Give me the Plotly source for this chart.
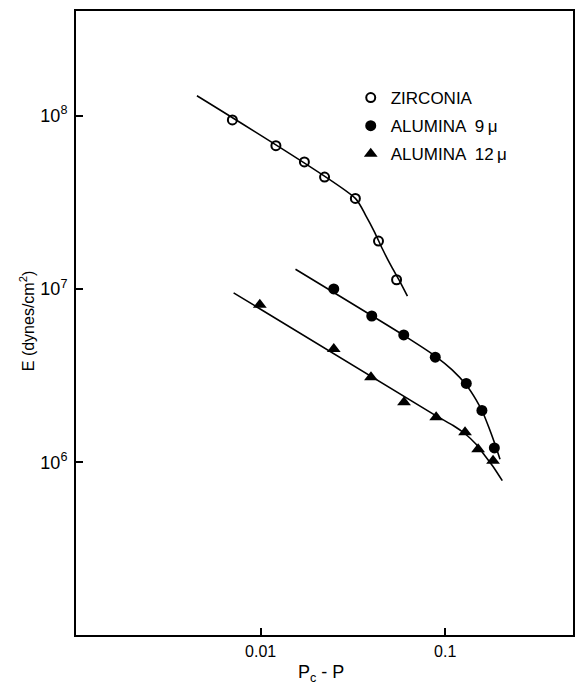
import plotly.graph_objects as go

# ---- data ----
zirc_x = [0.00703, 0.0121, 0.01726, 0.0222, 0.0326, 0.0435, 0.0545]
zirc_y = [9.45e7, 6.71e7, 5.41e7, 4.42e7, 3.33e7, 1.89e7, 1.13e7]
zirc_fit_x = [0.00452, 0.0326, 0.0370, 0.0414, 0.0457, 0.0505, 0.0569, 0.0624]
zirc_fit_y = [1.303e8, 3.33e7, 2.67e7, 2.13e7, 1.70e7, 1.38e7, 1.10e7, 9.1e6]

al9_x = [0.0249, 0.0400, 0.0596, 0.0883, 0.130, 0.158, 0.1845]
al9_y = [1.0e7, 6.98e6, 5.43e6, 4.04e6, 2.85e6, 1.99e6, 1.21e6]
al9_fit_x = [0.01545, 0.0596, 0.0883, 0.109, 0.130, 0.147, 0.160, 0.1726, 0.185, 0.198]
al9_fit_y = [1.30e7, 5.40e6, 4.10e6, 3.41e6, 2.79e6, 2.29e6, 1.93e6, 1.58e6, 1.29e6, 1.04e6]

al12_x = [0.0099, 0.0249, 0.0396, 0.0598, 0.0893, 0.128, 0.1507, 0.1815]
al12_y = [8.1e6, 4.51e6, 3.09e6, 2.22e6, 1.82e6, 1.49e6, 1.19e6, 1.02e6]
al12_fit_x = [0.00714, 0.0893, 0.1104, 0.128, 0.147, 0.164, 0.1838, 0.2037]
al12_fit_y = [9.5e6, 1.85e6, 1.63e6, 1.46e6, 1.27e6, 1.09e6, 9.27e5, 7.83e5]

x_tickvals = [0.01, 0.1]
x_ticktext = ["0.01", "0.1"]
y_tickvals = [1e6, 1e7, 1e8]
y_ticktext = ["10<sup>6</sup>", "10<sup>7</sup>", "10<sup>8</sup>"]

labels = ["ZIRCONIA", "ALUMINA  9\u2009\u03bc", "ALUMINA  12\u2009\u03bc"]

FONT = "Liberation Sans"
fig = go.Figure()

line_style = dict(color="black", width=1.6)
for fx, fy in [(zirc_fit_x, zirc_fit_y), (al9_fit_x, al9_fit_y), (al12_fit_x, al12_fit_y)]:
    fig.add_trace(go.Scatter(x=fx, y=fy, mode="lines", line=dict(line_style, shape="spline", smoothing=0.6),
                             showlegend=False, hoverinfo="skip"))

fig.add_trace(go.Scatter(x=zirc_x, y=zirc_y, mode="markers", name=labels[0], legendgroup="g1",
                         marker=dict(symbol="circle-open", size=9, color="black", line=dict(width=2, color="black"))))
fig.add_trace(go.Scatter(x=al9_x, y=al9_y, mode="markers", name=labels[1], legendgroup="g2",
                         marker=dict(symbol="circle", size=11, color="black")))
fig.add_trace(go.Scatter(x=al12_x, y=al12_y, mode="markers", name=labels[2], legendgroup="g3",
                         marker=dict(symbol="triangle-up", size=12, color="black")))

axis_common = dict(showline=True, linecolor="black", linewidth=2, mirror=True, ticks="inside",
                   ticklen=7, tickwidth=1.5, tickcolor="black", showgrid=False, zeroline=False)

fig.update_xaxes(type="log", range=[-3, -0.308], tickvals=x_tickvals, ticktext=x_ticktext,
                 tickfont=dict(family=FONT, size=16, color="black"), ticklabelstandoff=1, **axis_common)
fig.update_yaxes(type="log", range=[5.003, 8.604], tickvals=y_tickvals, ticktext=y_ticktext,
                 tickfont=dict(family=FONT, size=18, color="black"), ticklabelstandoff=3, **axis_common)

fig.add_annotation(text="E (dynes/cm<sup>2</sup>)", xref="paper", yref="paper",
                   x=(27 - 76) / 499.3, y=(635 - 321) / 624, textangle=-90, showarrow=False,
                   font=dict(family=FONT, size=16, color="black"), xanchor="center", yanchor="middle")
fig.add_annotation(text="P<sub>c</sub> - P", xref="paper", yref="paper",
                   x=(322 - 76) / 499.3, y=(635 - 673) / 624, showarrow=False,
                   font=dict(family=FONT, size=18, color="black"), xanchor="center", yanchor="middle")

fig.update_layout(
    width=576, height=688,
    margin=dict(l=76, r=1, t=11, b=53),
    paper_bgcolor="white", plot_bgcolor="white",
    showlegend=True,
    legend=dict(x=(352 - 76) / 499.3, y=(635 - 80) / 624, xanchor="left", yanchor="top",
                bgcolor="rgba(0,0,0,0)", font=dict(family=FONT, size=17, color="black"),
                tracegroupgap=3, itemsizing="trace"),
)

fig.write_html("out.html")
